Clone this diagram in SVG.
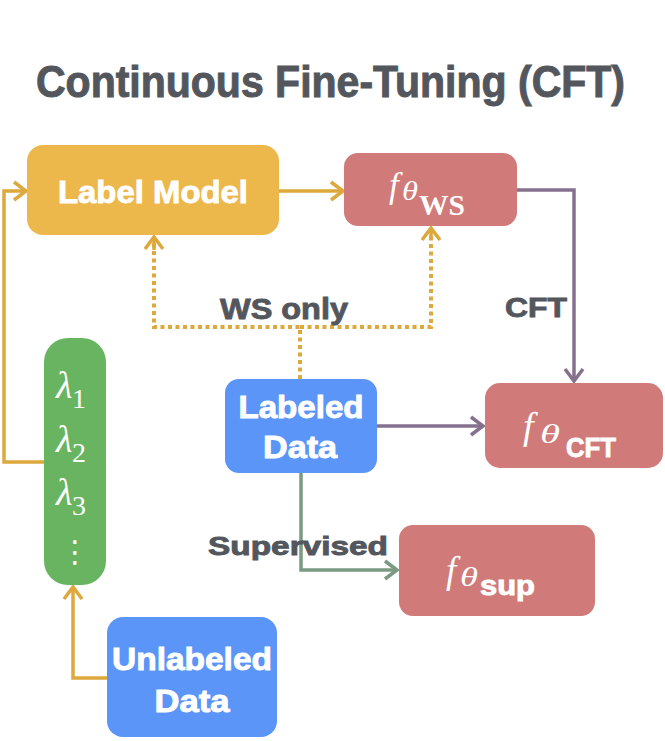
<svg xmlns="http://www.w3.org/2000/svg" width="665" height="741" viewBox="0 0 665 741">
<style>
.lbl{font-family:"Liberation Sans",Arial,sans-serif;font-weight:bold;fill:#ffffff;stroke:#ffffff;stroke-width:0.9;text-anchor:middle}
.cap{font-family:"Liberation Sans",Arial,sans-serif;font-weight:bold;fill:#53575d;stroke:#53575d;stroke-width:0.9}
.math{font-family:"Liberation Serif","Times New Roman",serif;fill:#ffffff}
.it{font-style:italic}
.orange{fill:none;stroke:#dda83c;stroke-width:3.5}
.dot{fill:none;stroke:#dda83c;stroke-width:4;stroke-dasharray:4 3.5}
.purple{fill:none;stroke:#85718e;stroke-width:3.5}
.green{fill:none;stroke:#7b9a82;stroke-width:3.5}
</style>
<defs>
<marker id="aO" markerUnits="userSpaceOnUse" markerWidth="30" markerHeight="30" refX="0" refY="0" viewBox="-16 -15 30 30" orient="auto"><path d="M-12,-9 L0,0 L-12,9" fill="none" stroke="#dda83c" stroke-width="3.5"/></marker>
<marker id="aP" markerUnits="userSpaceOnUse" markerWidth="30" markerHeight="30" refX="0" refY="0" viewBox="-16 -15 30 30" orient="auto"><path d="M-12,-9 L0,0 L-12,9" fill="none" stroke="#85718e" stroke-width="3.5"/></marker>
<marker id="aG" markerUnits="userSpaceOnUse" markerWidth="30" markerHeight="30" refX="0" refY="0" viewBox="-16 -15 30 30" orient="auto"><path d="M-12,-9 L0,0 L-12,9" fill="none" stroke="#7b9a82" stroke-width="3.5"/></marker>
</defs>
<rect width="665" height="741" fill="#ffffff"/>
<text class="cap" transform="translate(36,97) scale(1,1.1)" x="0" y="0" font-size="40" stroke-width="1.3" textLength="589" lengthAdjust="spacingAndGlyphs">Continuous  Fine-Tuning (CFT)</text>

<g id="connectors">
<path class="orange" d="M107,678 H73 V587" marker-end="url(#aO)"/>
<path class="orange" d="M44,462 H4 V191 H26" marker-end="url(#aO)"/>
<path class="orange" d="M279,191 H343" marker-end="url(#aO)"/>
<path class="dot" d="M300,379 V327 H154 V240"/>
<path class="dot" d="M300,327 H431 V231"/>
<path class="orange" d="M154,250 V237" marker-end="url(#aO)"/>
<path class="orange" d="M431,240 V228" marker-end="url(#aO)"/>
<path class="purple" d="M517,190 H574 V381" marker-end="url(#aP)"/>
<path class="purple" d="M377,426 H483" marker-end="url(#aP)"/>
<path class="green" d="M301,473 V570 H397" marker-end="url(#aG)"/>
<text class="cap" x="220" y="319" font-size="30" textLength="128" lengthAdjust="spacingAndGlyphs">WS only</text>
<text class="cap" x="505" y="317" font-size="28" textLength="62" lengthAdjust="spacingAndGlyphs">CFT</text>
<text class="cap" x="208" y="555" font-size="26" textLength="180" lengthAdjust="spacingAndGlyphs">Supervised</text>
</g>

<g id="label-model">
<rect x="27" y="145" width="252" height="90" rx="16" fill="#edb84b"/>
<text class="lbl" x="153" y="203" font-size="32" textLength="190" lengthAdjust="spacingAndGlyphs">Label Model</text>
</g>

<g id="f-ws">
<rect x="344" y="153" width="173" height="73" rx="14" fill="#d07b79"/>
<text class="math"><tspan class="it" x="389" y="197" font-size="35">f</tspan><tspan class="it" x="402" y="200" font-size="27" textLength="16" lengthAdjust="spacingAndGlyphs">θ</tspan><tspan x="419" y="215" font-size="29" font-weight="bold" textLength="46" lengthAdjust="spacingAndGlyphs">WS</tspan></text>
</g>

<g id="lambdas">
<rect x="44" y="338" width="62" height="247" rx="24" fill="#69b461"/>
<text class="math"><tspan class="it" x="56" y="398" font-size="38">λ</tspan><tspan x="72" y="408" font-size="28">1</tspan></text>
<text class="math"><tspan class="it" x="56" y="452" font-size="38">λ</tspan><tspan x="72" y="462" font-size="28">2</tspan></text>
<text class="math"><tspan class="it" x="56" y="505" font-size="38">λ</tspan><tspan x="72" y="515" font-size="28">3</tspan></text>
<text x="75" y="562" font-size="30" fill="#ffffff" text-anchor="middle" font-family="DejaVu Sans, sans-serif">⋮</text>
</g>

<g id="labeled-data">
<rect x="225" y="379" width="152" height="94" rx="14" fill="#5b95f8"/>
<text class="lbl" x="301" y="418" font-size="31" textLength="125" lengthAdjust="spacingAndGlyphs">Labeled</text>
<text class="lbl" x="300" y="458" font-size="31" textLength="74" lengthAdjust="spacingAndGlyphs">Data</text>
</g>

<g id="f-cft">
<rect x="485" y="383" width="178" height="85" rx="15" fill="#d07b79"/>
<text class="math"><tspan class="it" x="523" y="439" font-size="38">f</tspan><tspan class="it" x="540" y="443" font-size="28" textLength="20" lengthAdjust="spacingAndGlyphs">θ</tspan></text>
<text class="lbl" x="566" y="457" font-size="27" style="text-anchor:start" textLength="50" lengthAdjust="spacingAndGlyphs">CFT</text>
</g>

<g id="f-sup">
<rect x="399" y="525" width="196" height="91" rx="14" fill="#d07b79"/>
<text class="math"><tspan class="it" x="446" y="583" font-size="37">f</tspan><tspan class="it" x="460" y="586" font-size="27" textLength="18" lengthAdjust="spacingAndGlyphs">θ</tspan></text>
<text class="lbl" x="480" y="595" font-size="27" style="text-anchor:start" textLength="55" lengthAdjust="spacingAndGlyphs">sup</text>
</g>

<g id="unlabeled-data">
<rect x="107" y="617" width="170" height="120" rx="16" fill="#5b95f8"/>
<text class="lbl" x="192" y="670" font-size="31" textLength="160" lengthAdjust="spacingAndGlyphs">Unlabeled</text>
<text class="lbl" x="192" y="712" font-size="31" textLength="75" lengthAdjust="spacingAndGlyphs">Data</text>
</g>
</svg>
